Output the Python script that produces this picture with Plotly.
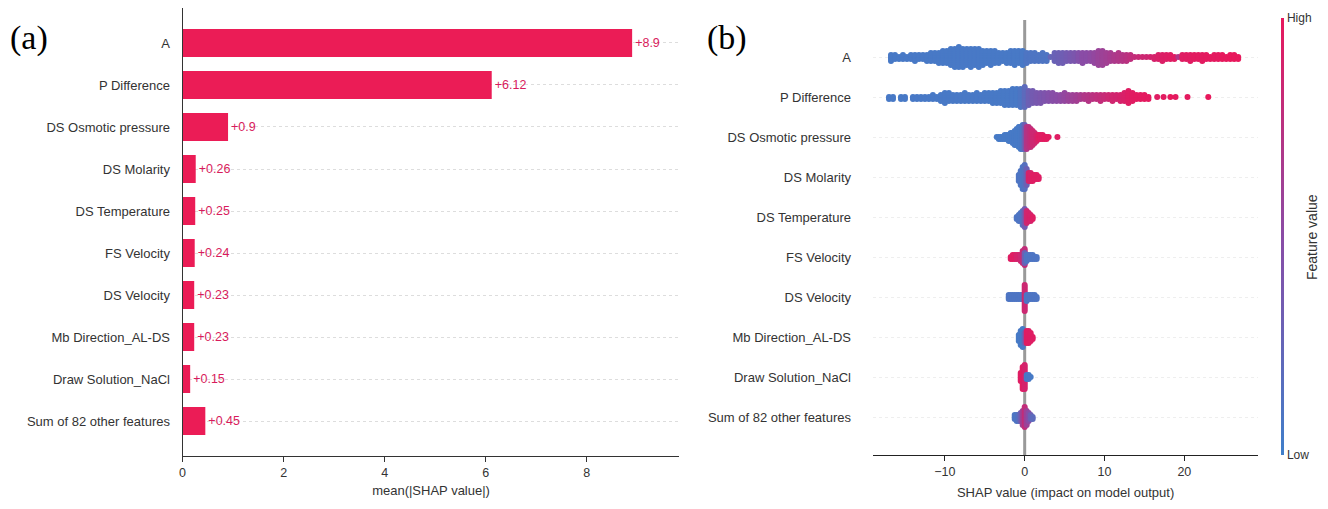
import plotly.graph_objects as go

# ---------------- data ----------------
features = ["A", "P Difference", "DS Osmotic pressure", "DS Molarity", "DS Temperature",
            "FS Velocity", "DS Velocity", "Mb Direction_AL-DS", "Draw Solution_NaCl",
            "Sum of 82 other features"]
mean_abs_shap = [8.9, 6.12, 0.9, 0.26, 0.25, 0.24, 0.23, 0.23, 0.15, 0.45]
bar_ticks = [0, 2, 4, 6, 8]
swarm_ticks = [-10, 0, 10, 20]

# beeswarm: SHAP value bins, number of samples per bin, normalised feature value
A_shap = [-16.75, -16.25, -15.75, -15.25, -14.75, -14.25, -13.75, -13.25, -12.75, -12.25,
          -11.75, -11.25, -10.75, -10.25, -9.75, -9.25, -8.75, -8.25, -7.75, -7.25,
          -6.75, -6.25, -5.75, -5.25, -4.75, -4.25, -3.75, -3.25, -2.75, -2.25,
          -1.75, -1.25, -0.75, -0.25, 0.25, 0.75, 1.25, 1.75, 2.25, 2.75,
          3.25, 3.75, 4.25, 4.75, 5.25, 5.75, 6.25, 6.75, 7.25, 7.75,
          8.25, 8.75, 9.25, 9.75, 10.25, 10.75, 11.25, 11.75, 12.25, 12.75,
          13.25, 13.75, 14.25, 14.75, 15.25, 15.75, 16.25, 16.75, 17.25, 17.75,
          18.25, 18.75, 19.25, 19.75, 20.25, 20.75, 21.25, 21.75, 22.25, 22.75,
          23.25, 23.75, 24.25, 24.75, 25.25, 25.75, 26.25, 26.75]
A_count = [4, 3, 2, 3, 2, 3, 4, 3, 3, 4,
           5, 5, 6, 7, 7, 9, 10, 11, 10, 9,
           10, 9, 10, 8, 7, 8, 7, 6, 5, 6,
           7, 8, 7, 8, 6, 5, 5, 4, 5, 4,
           1, 5, 6, 6, 5, 5, 5, 5, 6, 5,
           5, 6, 8, 8, 6, 5, 4, 5, 4, 4,
           3, 1, 1, 1, 1, 1, 2, 3, 4, 3,
           3, 2, 1, 3, 3, 4, 3, 3, 4, 3,
           2, 3, 3, 3, 2, 3, 3, 2]
A_value = [0.06] * 34 + [0.1] * 6 + \
          [0.25, 0.28, 0.3, 0.32, 0.35, 0.38, 0.4, 0.45, 0.5, 0.5,
           0.52, 0.55, 0.58, 0.6, 0.62, 0.65, 0.68, 0.7, 0.72, 0.75,
           0.78, 0.8, 0.82, 0.85, 0.85, 0.88, 0.9, 0.92, 0.93, 0.94,
           0.95, 0.95, 0.7, 0.95, 0.96, 0.96, 0.97, 0.97, 0.97, 0.98,
           0.98, 0.98, 0.98, 0.99, 0.99, 1.0, 1.0, 1.0]

P_shap = [-17.0, -16.5, -15.5, -15.0,
          -14.0, -13.5, -13.0, -12.5, -12.0, -11.5, -11.0, -10.5, -10.0, -9.5,
          -9.0, -8.5, -8.0, -7.5, -7.0, -6.5, -6.0, -5.5, -5.0, -4.5,
          -4.0, -3.5, -3.0, -2.5, -2.0, -1.5, -1.0, -0.5, 0.0, 0.5,
          1.0, 1.5, 2.0, 2.5, 3.0, 3.5, 4.0, 4.5, 5.0, 5.5,
          6.0, 6.5, 7.0, 7.5, 8.0, 8.5, 9.0, 9.5, 10.0, 10.5,
          11.0, 11.5, 12.0, 12.5, 13.0, 13.5, 14.0, 14.5, 15.0, 15.5,
          16.6, 17.4, 18.25, 18.9, 20.4, 23.0]
P_count = [2, 2, 2, 2,
           2, 2, 2, 2, 2, 3, 2, 4, 6, 5,
           4, 4, 4, 5, 4, 4, 5, 4, 5, 5,
           6, 6, 7, 8, 8, 9, 9, 10, 11, 8,
           7, 6, 6, 5, 5, 5, 4, 4, 5, 4,
           4, 4, 3, 3, 4, 3, 3, 4, 3, 3,
           4, 3, 4, 5, 7, 5, 3, 3, 3, 2,
           1, 1, 1, 1, 1, 1]
P_value = [0.06] * 31 + \
          [0.1, 0.2, 0.3, 0.35, 0.38, 0.4, 0.42, 0.45, 0.48, 0.5,
           0.52, 0.55, 0.58, 0.6, 0.63, 0.66, 0.7, 0.72, 0.75, 0.78,
           0.8, 0.82, 0.85, 0.87, 0.88, 0.9, 0.92, 0.95, 0.96, 0.97,
           0.97, 0.98, 0.98, 0.95, 0.97, 1.0, 0.98, 0.98, 1.0]

OSM_shap = [-3.5, -3.25, -3.0, -2.75, -2.5, -2.25, -2.0, -1.75, -1.5, -1.25, -1.0, -0.75, -0.5,
            -0.25, 0.0, 0.25, 0.5, 0.75, 1.0, 1.25, 1.5, 1.75, 2.0, 2.25, 2.5, 2.75, 3.0, 4.1]
OSM_count = [1, 2, 2, 2, 3, 3, 4, 5, 6, 8, 9, 11, 12,
             13, 13, 12, 11, 10, 8, 6, 4, 3, 3, 3, 2, 2, 1, 1]
OSM_value = [0.05] * 13 + [0.1, 0.3, 0.7, 0.75, 0.8, 0.85, 0.85, 0.9, 0.95, 0.95, 0.95,
                           0.97, 0.97, 0.97, 0.95]

MOL_shap = [-0.75, -0.5, -0.25, 0.0, 0.25, 0.5, 0.75, 1.0, 1.25, 1.5, 1.75]
MOL_count = [4, 8, 12, 13, 9, 5, 5, 4, 3, 3, 2]
MOL_value = [0.1, 0.1, 0.1, 0.15, 0.3, 0.9, 0.9, 0.95, 0.95, 0.95, 0.95]

TEMP_shap = [-1.0, -0.75, -0.5, -0.25, 0.0, 0.25, 0.5, 0.75, 1.0]
TEMP_count = [2, 4, 5, 8, 10, 7, 5, 4, 2]
TEMP_value = [0.1, 0.1, 0.1, 0.15, 0.35, 0.85, 0.9, 0.9, 0.95]

FSV_shap = [-1.75, -1.5, -1.25, -1.0, -0.75, -0.5, -0.25, 0.0, 0.0, 0.25, 0.5, 0.75, 1.0, 1.25, 1.5]
FSV_count = [2, 3, 3, 3, 3, 4, 7, 9, 6, 4, 3, 3, 3, 2, 2]
FSV_value = [0.95, 0.95, 0.95, 0.9, 0.9, 0.85, 0.8, 0.8, 0.3, 0.1, 0.1, 0.1, 0.1, 0.1, 0.1]

DSV_shap = [-2.0, -1.75, -1.5, -1.25, -1.0, -0.75, -0.5, -0.25, 0.0, 0.25, 0.5, 0.75, 1.0, 1.25, 1.5]
DSV_count = [3, 3, 3, 3, 3, 3, 3, 3, 14, 4, 3, 3, 3, 3, 2]
DSV_value = [0.1] * 8 + [0.85] + [0.1] * 6

MB_shap = [-0.75, -0.5, -0.25, 0.0, 0.25, 0.5, 0.75, 1.0]
MB_count = [4, 8, 10, 6, 7, 7, 5, 2]
MB_value = [0.05, 0.05, 0.05, 0.3, 0.95, 0.95, 0.95, 0.95]

NACL_shap = [-0.5, -0.25, 0.0, 0.25, 0.5, 0.75]
NACL_count = [5, 12, 13, 3, 3, 1]
NACL_value = [0.95, 0.95, 0.9, 0.05, 0.05, 0.05]

SUM_shap = [-1.25, -1.0, -0.75, -0.5, -0.25, 0.0, 0.25, 0.5, 0.75, 1.0]
SUM_count = [3, 4, 4, 5, 8, 11, 8, 5, 3, 2]
SUM_value = [0.1, 0.1, 0.15, 0.3, 0.6, 0.8, 0.6, 0.5, 0.3, 0.2]

swarm_rows = [(A_shap, A_count, A_value), (P_shap, P_count, P_value),
              (OSM_shap, OSM_count, OSM_value), (MOL_shap, MOL_count, MOL_value),
              (TEMP_shap, TEMP_count, TEMP_value), (FSV_shap, FSV_count, FSV_value),
              (DSV_shap, DSV_count, DSV_value), (MB_shap, MB_count, MB_value),
              (NACL_shap, NACL_count, NACL_value), (SUM_shap, SUM_count, SUM_value)]

# ---------------- styling ----------------
W, H = 1328, 509
BAR_COLOR = "#eb1c56"
LABEL_COLOR = "#d81b5c"
TXT = "#333333"
FONT = "Liberation Sans, Arial, sans-serif"
SCALE = [[0.0, "#3f7fca"], [0.5, "#8a4ca6"], [1.0, "#e8185c"]]
STEP = 0.05  # vertical spacing of stacked swarm points (row units)


def px_x(p):
    return p / W


def px_y(p):
    return 1 - p / H


fig = go.Figure()

# ---- panel (a): bar chart ----
rows = list(range(len(features)))
fig.add_trace(go.Bar(
    x=mean_abs_shap, y=rows, orientation="h", width=0.67,
    marker=dict(color=BAR_COLOR, line=dict(width=0)),
    text=[f"+{v:g}" for v in mean_abs_shap], textposition="outside",
    outsidetextfont=dict(color=LABEL_COLOR, size=12.5, family=FONT),
    cliponaxis=False, xaxis="x", yaxis="y", showlegend=False, hoverinfo="skip"))

# ---- panel (b): beeswarm ----
xs, ys, cs = [], [], []
for r, (sx, sn, sv) in enumerate(swarm_rows):
    for x, n, v in zip(sx, sn, sv):
        for k in range(n):
            off = ((k + 1) // 2) * (1 if k % 2 else -1) * STEP
            xs.append(x)
            ys.append(r + off)
            cs.append(v)

fig.add_trace(go.Scatter(
    x=xs, y=ys, mode="markers", xaxis="x2", yaxis="y2", showlegend=False, hoverinfo="skip",
    marker=dict(size=6, color=cs, colorscale=SCALE, cmin=0, cmax=1, line=dict(width=0),
                showscale=True,
                colorbar=dict(x=px_x(1281), xanchor="left", y=px_y(18), yanchor="top",
                              len=(455 - 18) / H, lenmode="fraction", thickness=3,
                              outlinewidth=0, xpad=0, ypad=0,
                              tickvals=[0, 1], ticktext=["Low", "High"], ticks="",
                              tickfont=dict(size=12, color=TXT, family=FONT)))))

ax_font = dict(size=12.5, color=TXT, family=FONT)
lab_font = dict(size=13, color=TXT, family=FONT)

fig.update_layout(
    width=W, height=H, margin=dict(l=0, r=0, t=0, b=0),
    paper_bgcolor="white", plot_bgcolor="white",
    xaxis=dict(domain=[px_x(180), px_x(678)], range=[0, (678 - 180) / 50.625], anchor="y",
               showline=True, linecolor="#333", linewidth=1, ticks="outside", ticklen=5,
               tickcolor="#333", tickvals=bar_ticks, tickfont=ax_font, showgrid=False,
               zeroline=False,
               title=dict(text="mean(|SHAP value|)", font=lab_font, standoff=6)),
    yaxis=dict(domain=[px_y(456), px_y(8)], range=[9.833, -0.833], anchor="x",
               tickvals=rows, ticktext=features, tickfont=lab_font, ticks="",
               showline=True, linecolor="#333", linewidth=1,
               showgrid=True, gridcolor="#dddddd", griddash="dot", gridwidth=1,
               zeroline=False, ticklabelstandoff=9),
    xaxis2=dict(domain=[px_x(872), px_x(1258)], range=[-19, 29.25], anchor="y2",
                showline=True, linecolor="#222", linewidth=1, ticks="outside", ticklen=5,
                tickcolor="#222", tickvals=swarm_ticks, tickfont=ax_font, showgrid=False,
                zeroline=False,
                title=dict(text="SHAP value (impact on model output)", font=lab_font, standoff=9)),
    yaxis2=dict(domain=[px_y(455), px_y(20)], range=[9.95, -0.925], anchor="x2",
                tickvals=rows, ticktext=features, tickfont=lab_font, ticks="",
                showline=False, showgrid=True, gridcolor="#eeeeee", griddash="dot",
                gridwidth=1, zeroline=False, ticklabelstandoff=21),
    shapes=[dict(type="line", xref="x2", yref="y2 domain", x0=0, x1=0, y0=0, y1=1,
                 line=dict(color="#999999", width=3), layer="below")],
    annotations=[
        dict(text="(a)", x=px_x(5), y=px_y(38), xref="paper", yref="paper",
             xanchor="left", yanchor="middle", showarrow=False,
             font=dict(size=34, color="black", family="Liberation Serif, Times New Roman, serif")),
        dict(text="(b)", x=px_x(704), y=px_y(38), xref="paper", yref="paper",
             xanchor="left", yanchor="middle", showarrow=False,
             font=dict(size=34, color="black", family="Liberation Serif, Times New Roman, serif")),
        dict(text="Feature value", x=px_x(1312), y=px_y(237), xref="paper", yref="paper",
             xanchor="center", yanchor="middle", showarrow=False, textangle=-90,
             font=dict(size=14, color=TXT, family=FONT)),
    ],
)

fig.write_html("out.html")
